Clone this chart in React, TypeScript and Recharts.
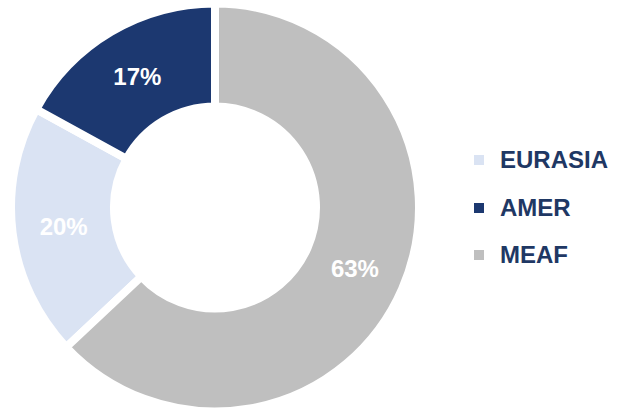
import React from "react";
import { PieChart, Pie, Cell, Legend } from "recharts";

const regions = ["EURASIA", "AMER", "MEAF"];
const shares = [20, 17, 63];
const colors = ["#DAE3F3", "#1C3870", "#BFBFBF"];
const legendOrder = ["EURASIA", "AMER", "MEAF"];

const data = regions.map((name, i) => ({ name, value: shares[i] }));

const RAD = Math.PI / 180;

const renderLabel = (props: any) => {
  const { cx, cy, midAngle, innerRadius, outerRadius, value } = props;
  const r = (innerRadius + outerRadius) / 2;
  const x = cx + r * Math.cos(-midAngle * RAD);
  const y = cy + r * Math.sin(-midAngle * RAD);
  return (
    <text
      x={x}
      y={y}
      fill="#FFFFFF"
      textAnchor="middle"
      dominantBaseline="central"
      fontFamily="'Liberation Sans', Arial, sans-serif"
      fontWeight="bold"
      fontSize={24}
    >
      {`${value}%`}
    </text>
  );
};

const LegendContent = () => (
  <div style={{ fontFamily: "'Liberation Sans', Arial, sans-serif" }}>
    {legendOrder.map((name) => {
      const idx = regions.indexOf(name);
      return (
        <div
          key={name}
          style={{ display: "flex", alignItems: "center", height: 47.5 }}
        >
          <div
            style={{
              width: 10,
              height: 10,
              background: colors[idx],
              marginRight: 16,
            }}
          />
          <span
            style={{
              color: "#1F3864",
              fontWeight: "bold",
              fontSize: 24,
              lineHeight: "24px",
            }}
          >
            {name}
          </span>
        </div>
      );
    })}
  </div>
);

export default function App() {
  return (
    <div style={{ position: "absolute", left: 0, top: 0, background: "#fff" }}>
      <PieChart
        width={619}
        height={408}
        margin={{ top: 0, right: 0, bottom: 0, left: 0 }}
      >
        <Pie
          data={data}
          dataKey="value"
          nameKey="name"
          cx={215}
          cy={207.5}
          innerRadius={101}
          outerRadius={204}
          startAngle={-136.8}
          endAngle={-496.8}
          stroke="#FFFFFF"
          strokeWidth={8}
          label={renderLabel}
          labelLine={false}
          isAnimationActive={false}
        >
          {data.map((d, i) => (
            <Cell key={d.name} fill={colors[i]} />
          ))}
        </Pie>
        <Legend
          content={<LegendContent />}
          wrapperStyle={{ left: 474, top: 136.5, width: 145, height: 142.5 }}
        />
      </PieChart>
    </div>
  );
}
